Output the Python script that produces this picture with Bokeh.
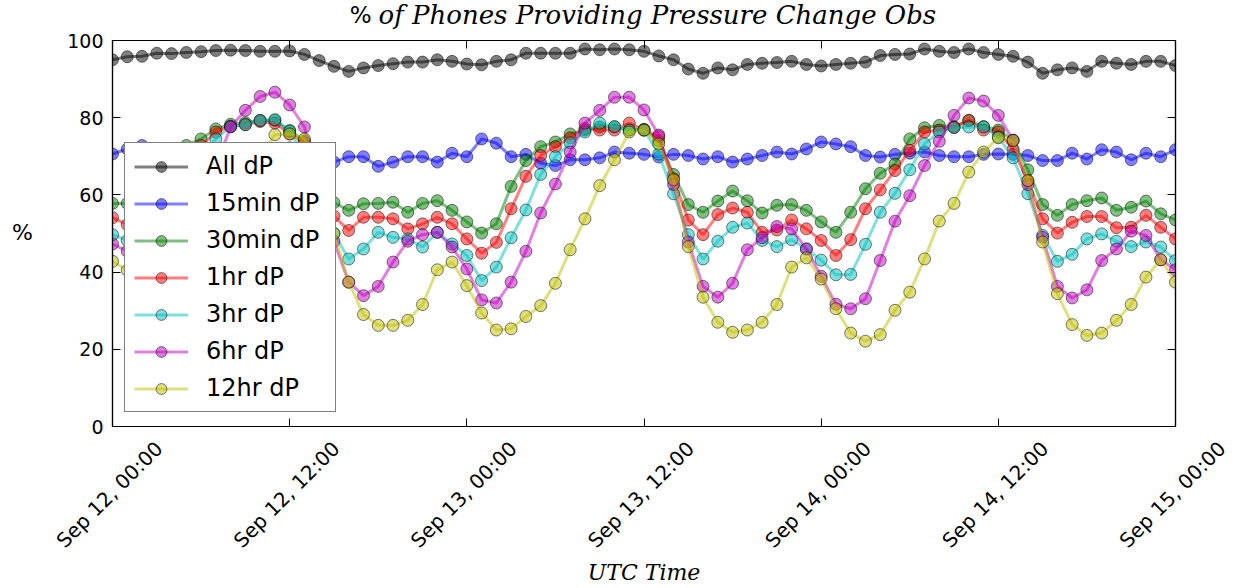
from math import pi

import pandas as pd
from bokeh.embed import file_html
from bokeh.layouts import column, row
from bokeh.models import (CustomJSTickFormatter, FixedTicker, Label, Legend,
                          LegendItem, LinearAxis, Range1d)
from bokeh.plotting import figure
from bokeh.resources import INLINE

# Hourly observation times, Sep 12 00:00 UTC to Sep 15 00:00 UTC
times = pd.date_range("2015-09-12 00:00", "2015-09-15 00:00", freq="h")

# Percent of phones providing each pressure-change interval
all_dp = [95.0, 95.8, 95.9, 96.7, 96.6, 96.9, 97.1, 97.4, 97.5, 97.4, 97.2, 97.2,
          97.3, 96.4, 94.8, 93.3, 92.0, 92.9, 93.5, 94.0, 94.4, 94.4, 95.0, 94.6,
          93.9, 93.7, 94.6, 95.0, 96.7, 96.7, 96.7, 96.7, 97.8, 97.6, 97.8, 97.6,
          97.2, 96.0, 95.0, 92.6, 91.5, 92.9, 92.4, 93.8, 94.1, 94.3, 94.6, 93.8,
          93.4, 93.8, 94.1, 94.4, 96.1, 96.4, 96.5, 97.8, 97.2, 96.9, 97.8, 96.9,
          96.4, 95.9, 94.4, 91.5, 92.4, 92.9, 92.0, 94.6, 94.1, 93.8, 94.6, 94.6,
          93.5]
dp_15min = [70.6, 71.9, 72.8, 72.0, 71.5, 71.0, 71.5, 71.8, 72.0, 71.5, 71.0, 71.5,
            72.2, 71.0, 70.0, 68.5, 69.9, 69.9, 67.4, 68.5, 69.9, 69.9, 68.5, 70.8,
            69.9, 74.5, 73.4, 69.9, 70.5, 68.2, 67.6, 69.1, 69.1, 69.6, 71.1, 70.8,
            70.5, 69.8, 70.5, 70.2, 69.3, 69.9, 68.5, 69.3, 70.2, 71.1, 70.6, 71.9,
            73.7, 73.2, 72.5, 70.2, 69.8, 70.5, 70.8, 71.1, 70.2, 69.9, 69.9, 70.5,
            70.6, 70.5, 70.2, 68.9, 68.9, 70.8, 69.3, 71.7, 71.1, 69.1, 70.8, 69.9,
            71.7]
dp_30min = [57.8, 57.8, 62.0, 67.0, 70.8, 72.8, 74.5, 77.1, 78.3, 78.7, 79.3, 79.3,
            76.7, 74.0, 66.0, 58.0, 56.0, 57.7, 57.8, 58.1, 55.5, 57.8, 58.5, 56.0,
            53.0, 50.1, 52.5, 62.2, 68.9, 72.5, 73.7, 75.8, 76.8, 77.6, 77.6, 76.8,
            77.0, 74.0, 65.3, 57.5, 55.5, 58.4, 61.0, 58.5, 55.3, 57.3, 57.5, 56.0,
            53.0, 50.3, 55.5, 61.6, 65.6, 68.0, 74.5, 77.4, 78.0, 77.6, 79.3, 77.7,
            76.8, 74.2, 66.5, 57.5, 54.7, 57.5, 58.5, 59.2, 56.0, 56.8, 58.4, 55.1,
            53.5]
dp_1hr = [54.1, 52.3, 56.0, 61.0, 65.5, 69.0, 72.8, 76.3, 77.8, 78.2, 79.0, 78.6,
          75.8, 73.5, 64.0, 54.5, 50.8, 54.2, 54.2, 53.8, 51.2, 52.5, 54.2, 52.5,
          48.6, 44.9, 47.7, 56.4, 64.8, 70.2, 72.5, 74.8, 77.2, 76.8, 76.8, 78.6,
          76.8, 75.1, 64.2, 53.5, 49.7, 54.9, 56.6, 55.5, 50.3, 50.9, 53.5, 51.2,
          48.2, 44.3, 48.4, 56.4, 61.3, 66.3, 71.5, 76.3, 76.8, 77.6, 79.3, 76.8,
          76.3, 71.8, 63.7, 53.8, 50.1, 52.9, 54.4, 54.4, 51.5, 51.6, 54.7, 51.6,
          48.6]
dp_3hr = [49.7, 48.2, 51.0, 56.0, 61.0, 66.0, 70.3, 74.5, 77.7, 78.2, 79.3, 79.5,
          76.5, 70.0, 60.0, 50.0, 43.4, 46.0, 50.3, 49.0, 48.6, 46.5, 50.3, 47.3,
          44.3, 37.8, 41.3, 48.9, 56.1, 65.3, 69.9, 73.5, 76.3, 78.6, 77.7, 76.8,
          76.8, 70.6, 60.3, 49.7, 43.4, 48.0, 51.6, 52.7, 48.2, 46.6, 48.4, 46.0,
          43.1, 39.3, 39.4, 47.2, 55.5, 60.4, 66.5, 73.2, 76.3, 77.4, 77.6, 77.6,
          75.0, 69.6, 60.3, 49.5, 42.8, 44.6, 48.6, 49.9, 48.0, 46.6, 47.8, 46.5,
          43.0]
dp_6hr = [47.3, 45.4, 44.5, 46.0, 50.0, 55.0, 61.0, 67.5, 77.6, 81.9, 85.5, 86.6,
          83.3, 77.6, 62.0, 48.0, 37.4, 33.9, 36.3, 42.6, 48.0, 49.7, 50.3, 46.5,
          40.8, 32.8, 32.0, 37.4, 45.4, 55.3, 62.8, 71.1, 78.6, 81.9, 85.3, 85.3,
          82.0, 75.5, 62.7, 47.8, 36.3, 33.5, 37.1, 45.8, 48.9, 51.8, 51.2, 46.0,
          38.9, 31.7, 30.5, 33.1, 43.0, 53.2, 59.8, 67.6, 73.9, 80.6, 85.1, 84.3,
          80.6, 74.1, 62.7, 49.0, 36.3, 33.3, 35.4, 43.0, 46.0, 50.6, 49.5, 43.2,
          40.6]
dp_12hr = [42.8, 40.5, 38.5, 37.0, 38.0, 41.0, 45.0, 51.0, 57.0, 64.0, 70.0, 75.6,
           75.8, 74.5, 62.0, 50.0, 37.4, 29.0, 26.2, 26.2, 27.5, 31.6, 40.6, 42.6,
           36.5, 29.4, 25.0, 25.3, 28.5, 31.3, 37.1, 45.8, 53.8, 62.4, 69.1, 76.3,
           76.8, 73.2, 63.9, 46.6, 33.5, 27.0, 24.4, 25.0, 27.0, 31.6, 41.3, 43.7,
           38.2, 30.5, 24.2, 22.1, 23.8, 30.1, 34.8, 43.4, 53.2, 57.8, 65.9, 71.1,
           74.8, 74.1, 63.7, 47.8, 34.4, 26.4, 23.6, 24.2, 27.5, 31.6, 38.7, 43.2,
           37.4]

series_labels = ["All dP", "15min dP", "30min dP", "1hr dP", "3hr dP", "6hr dP", "12hr dP"]
series_values = [all_dp, dp_15min, dp_30min, dp_1hr, dp_3hr, dp_6hr, dp_12hr]
series_colors = ["#000000", "#0000ff", "#008000", "#ff0000", "#00bfbf", "#bf00bf", "#bfbf00"]

tick_times = pd.date_range("2015-09-12 00:00", "2015-09-15 00:00", freq="12h")
tick_labels = ["Sep 12, 00:00", "Sep 12, 12:00", "Sep 13, 00:00", "Sep 13, 12:00",
               "Sep 14, 00:00", "Sep 14, 12:00", "Sep 15, 00:00"]
y_ticks = [0, 20, 40, 60, 80, 100]

# ---- page geometry (pixels) ----
W, H = 1237, 588
FL, FR, FT, FB = 112, 1175, 40, 426      # plotting frame on the page
TOP_H = 29                               # title strip height
LEFT_W = 60                              # strip holding the "%" axis title
PAD_T, PAD_B = FT - TOP_H, 10            # main figure border above / below frame
MAIN_H = (FB - FT) + PAD_T + PAD_B
BOT_H = H - TOP_H - MAIN_H               # strip holding date labels + axis title

t0 = times[0].to_pydatetime()
t1 = times[-1].to_pydatetime()
t0_ms = times[0].value / 1e6
t1_ms = times[-1].value / 1e6
ms_per_px = (t1_ms - t0_ms) / (FR - FL)


def text_strip(width, height, x_range=None):
    f = figure(width=width, height=height, output_backend="svg", toolbar_location=None,
               title=None, x_axis_location=None, y_axis_location=None,
               x_range=x_range if x_range is not None else Range1d(0, width),
               y_range=Range1d(height, 0),
               min_border_left=0, min_border_right=0, min_border_top=0, min_border_bottom=0)
    f.outline_line_color = None
    f.background_fill_color = "white"
    f.border_fill_color = "white"
    f.grid.visible = False
    return f


def put(f, x, y, text, **kw):
    opts = dict(text_align="center", text_baseline="middle", text_color="black",
                text_font="DejaVu Sans")
    opts.update(kw)
    f.add_layout(Label(x=x, y=y, text=text, **opts))


# ---- main chart ----
p = figure(width=W - LEFT_W, height=MAIN_H, x_axis_type="datetime", output_backend="svg",
           toolbar_location=None, title=None,
           x_range=Range1d(t0, t1), y_range=Range1d(0, 100),
           min_border_left=FL - LEFT_W, min_border_right=W - FR,
           min_border_top=PAD_T, min_border_bottom=PAD_B)
p.background_fill_color = "white"
p.border_fill_color = "white"
p.outline_line_color = "black"
p.outline_line_width = 1.2
p.xgrid.visible = False
p.ygrid.visible = False

blank = CustomJSTickFormatter(code="return ''")
tick_ms = [t.value / 1e6 for t in tick_times]

p.xaxis.ticker = FixedTicker(ticks=tick_ms)
p.xaxis.formatter = blank
p.yaxis.ticker = FixedTicker(ticks=y_ticks)
p.yaxis.major_label_text_font = "DejaVu Sans"
p.yaxis.major_label_text_font_size = "19px"
p.yaxis.major_label_text_color = "black"
p.yaxis.major_label_standoff = 9

p.add_layout(LinearAxis(ticker=FixedTicker(ticks=tick_ms), formatter=blank), "above")
p.add_layout(LinearAxis(ticker=FixedTicker(ticks=y_ticks), formatter=blank), "right")

for ax in p.axis:
    ax.axis_line_color = "black"
    ax.axis_line_width = 1.2
    ax.major_tick_line_color = "black"
    ax.major_tick_in = 8
    ax.major_tick_out = 0
    ax.minor_tick_line_color = None
for ax in [p.xaxis[0], p.above[0], p.right[0]]:
    ax.major_label_text_font_size = "0px"
    ax.major_label_standoff = 0

items = []
for label, vals, color in zip(series_labels, series_values, series_colors):
    src = {"t": list(times), "v": vals}
    ln = p.line(x="t", y="v", source=src, line_color=color, line_width=3, line_alpha=0.5)
    sc = p.scatter(x="t", y="v", source=src, size=12, marker="circle",
                   fill_color=color, fill_alpha=0.5,
                   line_color="black", line_alpha=0.5, line_width=1)
    items.append(LegendItem(label=label, renderers=[ln, sc]))

legend = Legend(items=items, location=(12, 14), margin=0, padding=9, spacing=9,
                glyph_width=54, glyph_height=27, label_height=27, label_width=120,
                label_standoff=18, label_text_font="DejaVu Sans",
                label_text_font_size="24px", label_text_color="black",
                border_line_color="black", border_line_width=1.5,
                background_fill_color="white", background_fill_alpha=1.0)
p.add_layout(legend)

# ---- title strip: upright percent sign followed by italic serif text ----
top = text_strip(W, TOP_H)
put(top, 371, 14.5, "%", text_align="right", text_font_size="23px")
put(top, 378, 14.5, "of Phones Providing Pressure Change Obs", text_align="left",
    text_font="DejaVu Serif", text_font_style="italic", text_font_size="26px")

# ---- left strip: y axis title ----
left = text_strip(LEFT_W, MAIN_H)
put(left, 22, 231 - TOP_H, "%", text_font_size="22px")

# ---- bottom strip: rotated date labels on the same time scale, and x axis title ----
bot_range = Range1d(t0_ms - FL * ms_per_px, t1_ms + (W - FR) * ms_per_px)
bot = text_strip(W, BOT_H, x_range=bot_range)
y0 = TOP_H + MAIN_H
for t, txt in zip(tick_ms, tick_labels):
    put(bot, t - 3 * ms_per_px, 494 - y0, txt, angle=pi / 4, text_font_size="20px")
put(bot, (t0_ms + t1_ms) / 2, 572 - y0, "UTC Time", text_font="DejaVu Serif",
    text_font_style="italic", text_font_size="22px")

page = column(top, row(left, p), bot)
open("out.html", "w").write(file_html(page, INLINE))
